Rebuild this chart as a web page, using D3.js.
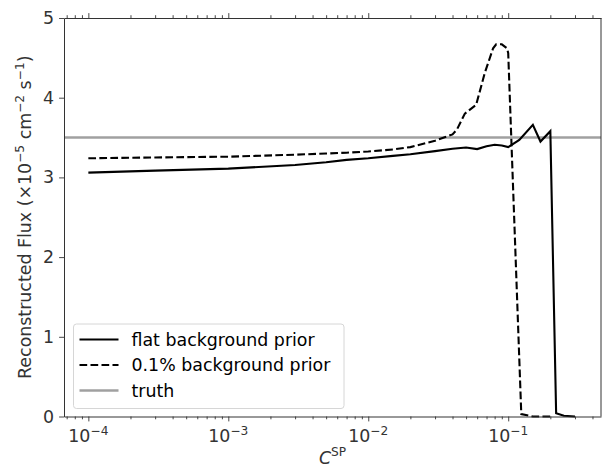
<!DOCTYPE html>
<html><head><meta charset="utf-8">
<script src="https://cdn.jsdelivr.net/npm/d3@7"></script>
<style>
body{margin:0;background:#fff;}
text{font-family:"DejaVu Sans",sans-serif;}
</style></head>
<body><svg id="c" width="603" height="469"></svg>
<script>
// ---- data ----
const cspSolid = [1e-4, 3e-4, 1e-3, 3e-3, 5e-3, 7e-3, 0.01, 0.015, 0.02, 0.03, 0.04, 0.05, 0.06, 0.07, 0.08, 0.09, 0.1, 0.12, 0.15, 0.17, 0.2, 0.22, 0.25, 0.3];
const fluxFlat  = [3.06, 3.085, 3.11, 3.155, 3.19, 3.22, 3.24, 3.27, 3.29, 3.33, 3.36, 3.375, 3.355, 3.39, 3.41, 3.40, 3.38, 3.47, 3.66, 3.45, 3.58, 0.04, 0.01, 0.0];
const cspDashed = [1e-4, 3e-4, 1e-3, 3e-3, 5e-3, 7e-3, 0.01, 0.015, 0.02, 0.03, 0.04, 0.043, 0.049, 0.059, 0.068, 0.078, 0.082, 0.09, 0.098, 0.1, 0.124, 0.15, 0.2];
const fluxPrior = [3.24, 3.25, 3.26, 3.285, 3.30, 3.31, 3.325, 3.35, 3.38, 3.46, 3.54, 3.60, 3.80, 3.91, 4.31, 4.62, 4.67, 4.67, 4.62, 4.56, 0.03, 0.0, 0.0];
const truthFlux = 3.5;
const yTicks = [0, 1, 2, 3, 4, 5];
const xMajor = [1e-4, 1e-3, 1e-2, 1e-1];
const xExp = ["−4", "−3", "−2", "−1"];
const legendLabels = ["flat background prior", "0.1% background prior", "truth"];

// ---- layout ----
const svg = d3.select("#c");
const L = 64, R = 601, T = 18, B = 416.5;
const x = d3.scaleLog().domain([Math.pow(10, -4.174), Math.pow(10, -0.337)]).range([L, R]);
const y = d3.scaleLinear().domain([0, 5]).range([B, T]);
const axisColor = "#333";
const fs = 17.4;
const sup = fs * 0.7;

// minor ticks
const minor = [];
for (let e = -5; e <= 0; e++) for (let m = 2; m <= 9; m++) {
  const v = m * Math.pow(10, e);
  if (v >= x.domain()[0] && v <= x.domain()[1]) minor.push(v);
}

// truth line
svg.append("line").attr("x1", L).attr("x2", R).attr("y1", y(truthFlux)).attr("y2", y(truthFlux))
  .attr("stroke", "#a0a0a0").attr("stroke-width", 2.4);

const line = d3.line().x(d => x(d[0])).y(d => y(d[1]));
svg.append("path").datum(cspSolid.map((c, i) => [c, fluxFlat[i]]))
  .attr("d", line).attr("fill", "none").attr("stroke", "#000").attr("stroke-width", 2.1)
  .attr("stroke-linejoin", "miter");
svg.append("path").datum(cspDashed.map((c, i) => [c, fluxPrior[i]]))
  .attr("d", line).attr("fill", "none").attr("stroke", "#000").attr("stroke-width", 2.1)
  .attr("stroke-dasharray", "7.7,3.3");

// axes
const gx = svg.append("g").attr("transform", `translate(0,${B})`);
gx.call(d3.axisBottom(x).tickValues(xMajor).tickFormat("").tickSizeInner(4.9).tickSizeOuter(0));
gx.append("g").call(d3.axisBottom(x).tickValues(minor).tickFormat("").tickSizeInner(2.8).tickSizeOuter(0))
  .select(".domain").remove();
const gt = svg.append("g").attr("transform", `translate(0,${T})`);
gt.call(d3.axisTop(x).tickValues(xMajor).tickFormat("").tickSizeInner(4.9).tickSizeOuter(0));
gt.append("g").call(d3.axisTop(x).tickValues(minor).tickFormat("").tickSizeInner(2.8).tickSizeOuter(0))
  .select(".domain").remove();
const gy = svg.append("g").attr("transform", `translate(${L},0)`);
gy.call(d3.axisLeft(y).tickValues(yTicks).tickFormat(d3.format("d")).tickSizeInner(4.9).tickSizeOuter(0).tickPadding(5));
gy.selectAll("text").attr("font-size", fs).attr("fill", axisColor).style("font-family", "DejaVu Sans");
svg.append("line").attr("x1", R).attr("x2", R).attr("y1", T).attr("y2", B).attr("stroke", axisColor).attr("stroke-width", 1);
svg.selectAll(".domain").attr("stroke", axisColor).attr("stroke-width", 1);
svg.selectAll(".tick line").attr("stroke", axisColor).attr("stroke-width", 0.9);

// x tick labels 10^k
xMajor.forEach((v, i) => {
  const t = svg.append("text").attr("x", x(v)).attr("y", 442).attr("text-anchor", "middle")
    .attr("font-size", fs).attr("fill", axisColor);
  t.append("tspan").text("10");
  t.append("tspan").attr("dy", -7.5).attr("font-size", sup).text(xExp[i]);
});

// x label
const xl = svg.append("text").attr("x", (L + R) / 2).attr("y", 464).attr("text-anchor", "middle")
  .attr("font-size", fs).attr("fill", axisColor);
xl.append("tspan").attr("font-style", "italic").text("C");
xl.append("tspan").attr("dy", -8).attr("font-size", sup).text("SP");

// y label
const yl = svg.append("text").attr("transform", `translate(31,${(T + B) / 2}) rotate(-90)`)
  .attr("text-anchor", "middle").attr("font-size", fs).attr("fill", axisColor);
yl.append("tspan").text("Reconstructed Flux (×10");
yl.append("tspan").attr("dy", -7.5).attr("font-size", sup).text("−5");
yl.append("tspan").attr("dy", 7.5).text(" cm");
yl.append("tspan").attr("dy", -7.5).attr("font-size", sup).text("−2");
yl.append("tspan").attr("dy", 7.5).text(" s");
yl.append("tspan").attr("dy", -7.5).attr("font-size", sup).text("−1");
yl.append("tspan").attr("dy", 7.5).text(")");

// legend
const lg = svg.append("g");
lg.append("rect").attr("x", 73.5).attr("y", 324).attr("width", 270.5).attr("height", 84.5).attr("rx", 3)
  .attr("fill", "#fff").attr("fill-opacity", 0.8).attr("stroke", "#d6d6d6").attr("stroke-width", 1);
const styles = [
  {stroke: "#000", w: 2.1, dash: null},
  {stroke: "#000", w: 2.1, dash: "7.7,3.3"},
  {stroke: "#a0a0a0", w: 2.4, dash: null}
];
legendLabels.forEach((lab, i) => {
  const cy = 339.5 + i * 25.5;
  lg.append("line").attr("x1", 79.5).attr("x2", 118.5).attr("y1", cy).attr("y2", cy)
    .attr("stroke", styles[i].stroke).attr("stroke-width", styles[i].w)
    .attr("stroke-dasharray", styles[i].dash);
  lg.append("text").attr("x", 131.5).attr("y", cy + 6).attr("font-size", fs).attr("fill", "#000").text(lab);
});
</script></body></html>
